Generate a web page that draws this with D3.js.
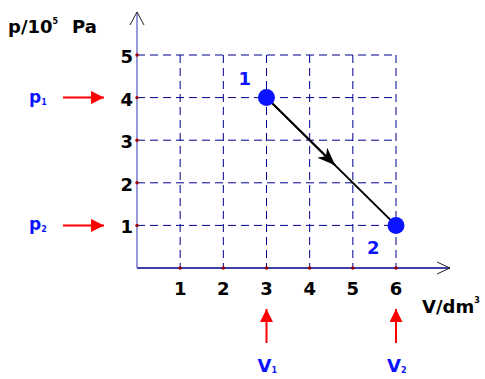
<!DOCTYPE html>
<html>
<head>
<meta charset="utf-8">
<script src="https://cdn.jsdelivr.net/npm/d3@7"></script>
<style>
  body { margin: 0; background: #fff; }
  text { font-family: "DejaVu Sans", Verdana, sans-serif; font-weight: bold; }
</style>
</head>
<body>
<script>
// data
const vTicks = [1, 2, 3, 4, 5, 6];
const pTicks = [1, 2, 3, 4, 5];
const stateV = [3, 6];
const stateP = [4, 1];
const stateLabels = ["1", "2"];
const pMarks = ["p", "p"], pSubs = ["1", "2"];
const vMarks = ["V", "V"], vSubs = ["1", "2"];

const width = 485, height = 379;

const svg = d3.select("body").append("svg")
    .attr("width", width)
    .attr("height", height);

const x = d3.scaleLinear().domain([0, 6]).range([137, 396]);
const y = d3.scaleLinear().domain([0, 5]).range([268, 55]);

const navy = "#00008b";
const blue = "#0a14ff";
const red = "#ff0000";

// dashed grid
svg.append("g").selectAll("line")
    .data(vTicks)
    .join("line")
        .attr("x1", d => x(d)).attr("x2", d => x(d))
        .attr("y1", y(5)).attr("y2", y(0))
        .attr("stroke", navy).attr("stroke-width", 1)
        .attr("stroke-dasharray", "8,5");
svg.append("g").selectAll("line")
    .data(pTicks)
    .join("line")
        .attr("x1", x(0)).attr("x2", x(6))
        .attr("y1", d => y(d)).attr("y2", d => y(d))
        .attr("stroke", navy).attr("stroke-width", 1)
        .attr("stroke-dasharray", "8,5");

// axes
svg.append("line")
    .attr("x1", x(0)).attr("x2", 450)
    .attr("y1", y(0)).attr("y2", y(0))
    .attr("stroke", navy).attr("stroke-width", 1.5);
svg.append("line")
    .attr("x1", x(0)).attr("x2", x(0))
    .attr("y1", y(0)).attr("y2", 12)
    .attr("stroke", "#7777cc").attr("stroke-width", 1.5);

// open arrow heads
svg.append("path")
    .attr("d", `M${x(0) - 7},25 L${x(0)},12 L${x(0) + 7},25`)
    .attr("fill", "none").attr("stroke", "#222").attr("stroke-width", 1);
svg.append("path")
    .attr("d", `M437,${y(0) - 6} L450,${y(0)} L437,${y(0) + 6}`)
    .attr("fill", "none").attr("stroke", "#222").attr("stroke-width", 1);

// tick dots
svg.append("g").selectAll("circle")
    .data(vTicks)
    .join("circle")
        .attr("cx", d => x(d)).attr("cy", y(0)).attr("r", 1.7)
        .attr("fill", "#a00000");
svg.append("g").selectAll("circle")
    .data(pTicks)
    .join("circle")
        .attr("cx", x(0)).attr("cy", d => y(d)).attr("r", 1.7)
        .attr("fill", "#a00000");

// tick labels
svg.append("g").selectAll("text")
    .data(vTicks)
    .join("text")
        .attr("x", d => x(d)).attr("y", y(0) + 27)
        .attr("text-anchor", "middle")
        .attr("font-size", 18)
        .text(d => d);
svg.append("g").selectAll("text")
    .data(pTicks)
    .join("text")
        .attr("x", x(0) - 4).attr("y", d => y(d) + 8)
        .attr("text-anchor", "end")
        .attr("font-size", 18)
        .text(d => d);

// axis titles
const pt = svg.append("text").attr("x", 8).attr("y", 33).attr("font-size", 18);
pt.append("tspan").text("p/10");
pt.append("tspan").attr("dy", -9).attr("font-size", 8).text("5");
pt.append("tspan").attr("dy", 9).attr("dx", 14).text("Pa");

const vt = svg.append("text").attr("x", 422).attr("y", 313).attr("font-size", 18);
vt.append("tspan").text("V/dm");
vt.append("tspan").attr("dy", -10).attr("font-size", 8).text("3");

// process line with arrow in the middle
const defs = svg.append("defs");
defs.append("marker")
    .attr("id", "tri")
    .attr("viewBox", "0 0 18 14")
    .attr("refX", 18).attr("refY", 7)
    .attr("markerWidth", 18).attr("markerHeight", 14)
    .attr("markerUnits", "userSpaceOnUse")
    .attr("orient", "auto")
    .append("path")
        .attr("d", "M0,0 L18,7 L0,14 L5,7 Z")
        .attr("fill", "#000");

const p0 = [x(stateV[0]), y(stateP[0])];
const p1 = [x(stateV[1]), y(stateP[1])];
const mid = 0.53;
const pm = [p0[0] + (p1[0] - p0[0]) * mid, p0[1] + (p1[1] - p0[1]) * mid];

svg.append("path")
    .attr("d", d3.line()([p0, p1]))
    .attr("stroke", "#000").attr("stroke-width", 2);
svg.append("path")
    .attr("d", d3.line()([p0, pm]))
    .attr("stroke", "#000").attr("stroke-width", 2)
    .attr("marker-end", "url(#tri)");

// state points
svg.append("g").selectAll("circle")
    .data(stateV)
    .join("circle")
        .attr("cx", d => x(d)).attr("cy", (d, i) => y(stateP[i]))
        .attr("r", 8.5)
        .attr("fill", blue);
svg.append("g").selectAll("text")
    .data(stateLabels)
    .join("text")
        .attr("x", (d, i) => x(stateV[i]) - (i === 0 ? 28 : 29))
        .attr("y", (d, i) => i === 0 ? y(stateP[i]) - 13 : y(stateP[i]) + 29)
        .attr("font-size", 18)
        .attr("fill", blue)
        .text(d => d);

// red pointers for p1, p2
defs.append("marker")
    .attr("id", "redHead")
    .attr("viewBox", "0 0 12 12")
    .attr("refX", 12).attr("refY", 6)
    .attr("markerWidth", 13).attr("markerHeight", 13)
    .attr("markerUnits", "userSpaceOnUse")
    .attr("orient", "auto")
    .append("path")
        .attr("d", "M0,0 L12,6 L0,12 Z")
        .attr("fill", red);

svg.append("g").selectAll("line")
    .data(stateP)
    .join("line")
        .attr("x1", 63).attr("x2", 104)
        .attr("y1", d => y(d)).attr("y2", d => y(d))
        .attr("stroke", red).attr("stroke-width", 2)
        .attr("marker-end", "url(#redHead)");
svg.append("g").selectAll("text")
    .data(stateP)
    .join("text")
        .attr("x", 29).attr("y", d => y(d) + 5)
        .attr("font-size", 17)
        .attr("fill", blue)
        .each(function (d, i) {
            const t = d3.select(this);
            t.append("tspan").text(pMarks[i]);
            t.append("tspan").attr("dy", 2).attr("font-size", 8).text(pSubs[i]);
        });

// red pointers for V1, V2
svg.append("g").selectAll("line")
    .data(stateV)
    .join("line")
        .attr("x1", d => x(d)).attr("x2", d => x(d))
        .attr("y1", 343).attr("y2", 309)
        .attr("stroke", red).attr("stroke-width", 2)
        .attr("marker-end", "url(#redHead)");
svg.append("g").selectAll("text")
    .data(stateV)
    .join("text")
        .attr("x", d => x(d) - 9).attr("y", 372)
        .attr("font-size", 18)
        .attr("fill", blue)
        .each(function (d, i) {
            const t = d3.select(this);
            t.append("tspan").text(vMarks[i]);
            t.append("tspan").attr("dy", 1).attr("font-size", 8).text(vSubs[i]);
        });
</script>
</body>
</html>
